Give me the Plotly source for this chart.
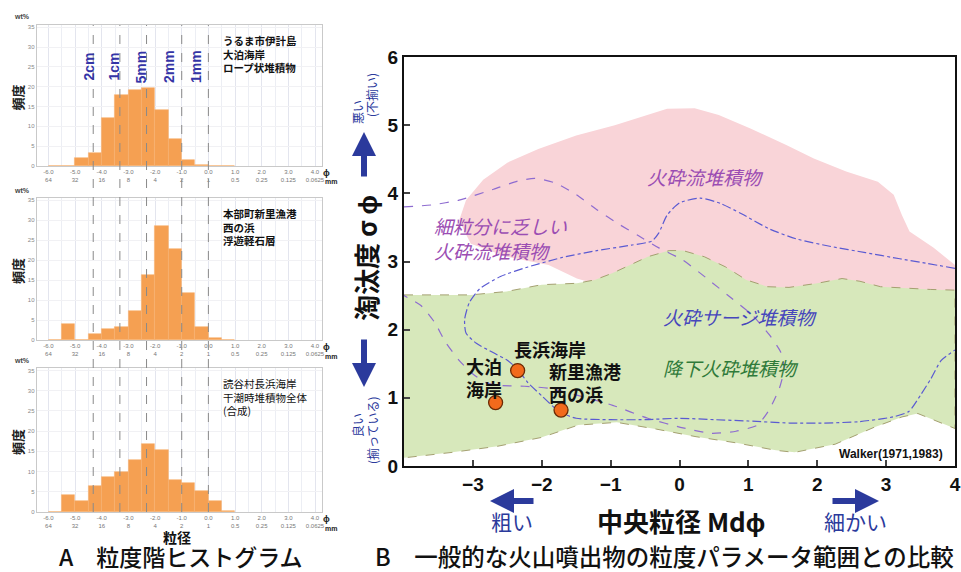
import plotly.graph_objects as go

W, H = 961, 572

# ---------------- data : A  grain-size histograms ----------------
bin_centers = [-5.75, -5.25, -4.75, -4.25, -3.75, -3.25, -2.75, -2.25,
               -1.75, -1.25, -0.75, -0.25, 0.25, 0.75]
wt_ikei = [0, 0, 2.1, 3.4, 12.0, 17.9, 19.2, 19.7, 14.2, 6.7, 1.6, 0.2, 0, 0]
wt_shinzato = [0, 4.0, 0, 1.4, 2.8, 3.2, 7.2, 16.2, 28.5, 22.8, 11.7, 3.3, 0.5, 0]
wt_nagahama = [0, 4.1, 2.7, 6.5, 8.6, 10.0, 12.8, 16.9, 15.4, 7.9, 7.2, 5.3, 2.6, 0.3]

phi_ticks = [-6, -5, -4, -3, -2, -1, 0, 1, 2, 3, 4]
phi_labels = ["-6.0", "-5.0", "-4.0", "-3.0", "-2.0", "-1.0", "0.0", "1.0", "2.0", "3.0", "4.0"]
mm_labels = ["64", "32", "16", "8", "4", "2", "1", "0.5", "0.25", "0.125", "0.0625"]
grid_half = [-6.0, -5.5, -5.0, -4.5, -4.0, -3.5, -3.0, -2.5, -2.0, -1.5, -1.0, -0.5,
             0.0, 0.5, 1.0, 1.5, 2.0, 2.5, 3.0, 3.5, 4.0]
wt_ticks = [0, 5, 10, 15, 20, 25, 30, 35]

size_phi = [-4.32, -3.32, -2.32, -1.0, 0.0]
size_names = ["2cm", "1cm", "5mm", "2mm", "1mm"]

hist_sites = [
    "うるま市伊計島<br>大泊海岸<br>ロープ状堆積物",
    "本部町新里漁港<br>西の浜<br>浮遊軽石層",
    "読谷村長浜海岸<br>干潮時堆積物全体<br>(合成)",
]

# ---------------- data : B  Md-phi vs sigma-phi ----------------
site_md = [-2.67, -2.35, -1.72]
site_sigma = [0.93, 1.40, 0.82]

pflow_x = [-3.2, -3.1, -2.85, -2.5, -2.05, -1.5, -0.94, -0.47, -0.18, 0.22, 0.57, 1.03,
           1.55, 1.95, 2.42, 2.88, 3.11, 3.23, 3.34, 3.69, 4.0, 4.0, 1.0, -1.0, -1.18,
           -1.49, -1.9, -2.51, -3.03]
pflow_y = [3.6, 3.9, 4.2, 4.45, 4.65, 4.85, 5.0, 5.15, 5.24, 5.25, 5.15, 4.95,
           4.71, 4.51, 4.32, 4.17, 3.98, 3.68, 3.44, 3.2, 2.95, 2.5, 2.5, 2.5, 2.66,
           2.75, 2.95, 3.07, 3.26]

fall_x = [-4.0, -3.03, -2.51, -2.0, -1.49, -1.23, -0.97, -0.72, -0.46, -0.15, 0.05, 0.36,
          0.67, 0.97, 1.28, 1.59, 2.0, 2.36, 2.62, 2.92, 3.23, 3.64, 4.0,
          4.0, 3.46, 3.23, 2.83, 2.26, 1.67, 1.4, 0.82, 0.24, -0.33, -0.91, -1.47,
          -2.0, -2.64, -3.3, -4.0]
fall_y = [2.51, 2.51, 2.56, 2.66, 2.68, 2.73, 2.83, 2.95, 3.07, 3.16, 3.16, 3.07,
          2.92, 2.73, 2.63, 2.62, 2.68, 2.75, 2.71, 2.63, 2.61, 2.59, 2.58,
          0.55, 0.77, 0.72, 0.57, 0.32, 0.2, 0.23, 0.34, 0.43, 0.54, 0.64, 0.6,
          0.42, 0.29, 0.2, 0.12]

fines_x = [-4.0, -3.6, -3.2, -2.7, -2.35, -2.1, -1.8, -1.5, -1.2, -0.9, -0.6, -0.3, 0.05,
           0.4, 0.72, 1.05, 1.3, 1.47, 1.52, 1.45, 1.3, 1.13, 0.82, 0.46, 0.05, -0.46,
           -0.97, -1.49, -1.9, -2.25, -2.6, -2.8, -3.0, -3.2, -3.4, -3.55, -3.75, -4.0]
fines_y = [3.8, 3.83, 3.9, 4.06, 4.18, 4.22, 4.15, 3.98, 3.76, 3.56, 3.38, 3.2, 3.02,
           2.75, 2.49, 2.22, 1.93, 1.67, 1.43, 1.14, 0.82, 0.6, 0.51, 0.48, 0.56, 0.7,
           0.89, 1.04, 1.14, 1.17, 1.18, 1.22, 1.35, 1.55, 1.82, 2.1, 2.35, 2.5]

surge_x = [4.0, 3.6, 3.2, 2.7, 2.2, 1.7, 1.3, 0.9, 0.6, 0.3, 0.0, -0.18, -0.3, -0.4,
           -0.7, -1.2, -1.7, -2.2, -2.6, -2.9, -3.05, -3.12, -3.1, -2.95, -2.7, -2.5,
           -2.35, -2.2, -2.0, -1.75, -1.5, -1.0, -0.5, 0.0, 0.5, 1.0, 1.6, 2.1, 2.6,
           3.1, 3.33, 3.5, 3.65, 3.8, 4.0]
surge_y = [2.9, 2.97, 3.04, 3.13, 3.22, 3.33, 3.48, 3.7, 3.85, 3.93, 3.86, 3.68, 3.42,
           3.3, 3.24, 3.16, 3.06, 2.92, 2.78, 2.6, 2.4, 2.15, 1.95, 1.8, 1.66, 1.55,
           1.42, 1.22, 1.03, 0.8, 0.7, 0.68, 0.68, 0.7, 0.68, 0.66, 0.63, 0.63, 0.65,
           0.72, 0.8, 1.04, 1.28, 1.55, 1.7]

b_xticks = [-3, -2, -1, 0, 1, 2, 3, 4]
b_yticks = [0, 1, 2, 3, 4, 5, 6]

# ---------------- helpers (pixel -> paper) ----------------
def PX(x):
    return x / W

def PY(y):
    return 1 - y / H

LAT = "Liberation Sans, Arial, Noto Sans CJK JP"
CJK = "Noto Sans CJK JP, Liberation Sans"
BLUE = "#2b3a9c"

fig = go.Figure()

# ---------------- panel A ----------------
hist_px = (36.7, 321.7)
hist_py = [(25, 166), (198, 340), (368, 512)]
hist_vals = [wt_ikei, wt_shinzato, wt_nagahama]
ann = []
for i, vals in enumerate(hist_vals):
    n = "" if i == 0 else str(i + 1)
    fig.add_trace(go.Bar(x=bin_centers, y=vals, width=0.5,
                         marker=dict(color="#f5a052", line=dict(color="#f7b272", width=0.6)),
                         xaxis="x" + n, yaxis="y" + n, showlegend=False))
    top, bot = hist_py[i]
    fig.layout["xaxis" + n] = dict(
        domain=[PX(hist_px[0]), PX(hist_px[1])], range=[-6.44, 4.25],
        anchor="y" + n, tickvals=phi_ticks, automargin=False,
        ticktext=[a + "<br>" + b for a, b in zip(phi_labels, mm_labels)],
        tickfont=dict(size=6, color="#777", family=LAT), ticks="",
        showgrid=True, gridcolor="#e3e5ee", gridwidth=1,
        minor=dict(tickvals=grid_half, showgrid=True, gridcolor="#eceef4"),
        showline=True, mirror=True, linecolor="#c9c9c9", linewidth=1, zeroline=False,
        fixedrange=True)
    fig.layout["yaxis" + n] = dict(
        domain=[PY(bot), PY(top)], range=[0, 35.6], anchor="x" + n, automargin=False,
        tickvals=wt_ticks, tickfont=dict(size=6, color="#888", family=LAT),
        showgrid=True, gridcolor="#f1f1f4", showline=True, mirror=True,
        linecolor="#c9c9c9", linewidth=1, zeroline=False, ticks="")
    # axis decorations
    ann.append(dict(text="<b>wt%</b>", x=PX(22), y=PY(top - 8), font=dict(size=7, color="#444", family=LAT)))
    ann.append(dict(text="<b>頻度</b>", x=PX(17), y=PY((top + bot) / 2 + 2), textangle=-90,
                    font=dict(size=13, color="#222", family=CJK)))
    ann.append(dict(text="<b>ϕ</b>", x=PX(326), y=PY(bot + 7), font=dict(size=9, color="#222", family=LAT)))
    ann.append(dict(text="<b>mm</b>", x=PX(331), y=PY(bot + 16), font=dict(size=7, color="#222", family=LAT)))
    site_txt = hist_sites[i]
    ann.append(dict(text=("<b>" + site_txt + "</b>") if i < 2 else site_txt,
                    x=PX(221), y=PY(top + 29), xanchor="left", align="left",
                    font=dict(size=10.5, color="#111", family=CJK)))

# dashed reference lines across the three histograms
for p in size_phi:
    fig.add_shape(type="line", xref="x", yref="paper", x0=p, x1=p,
                  y0=PY(512), y1=PY(25), line=dict(color="#8a8a8a", width=1, dash="dash"))

# size labels in top histogram
size_lbl_px = [88.5, 113.5, 140.5, 169, 196]
for name, xp in zip(size_names, size_lbl_px):
    ann.append(dict(text="<b>" + name + "</b>", x=PX(xp), y=PY(67), textangle=-90,
                    font=dict(size=14, color="#3434a6", family=LAT)))

ann.append(dict(text="<b>粒径</b>", x=PX(177), y=PY(537), font=dict(size=14, color="#111", family=CJK)))
ann.append(dict(text="A　粒度階ヒストグラム", x=PX(57), y=PY(556), xanchor="left",
                font=dict(size=23, color="#111", family=CJK, weight=500)))

# ---------------- panel B ----------------
fig.add_trace(go.Scatter(x=pflow_x, y=pflow_y, fill="toself", fillcolor="#f9d4d8",
                         line=dict(width=0), mode="lines", xaxis="x4", yaxis="y4",
                         showlegend=False, hoverinfo="skip"))
fig.add_trace(go.Scatter(x=fall_x, y=fall_y, fill="toself", fillcolor="#d7e8bb",
                         line=dict(color="#a4a070", width=1, dash="dash"), mode="lines",
                         xaxis="x4", yaxis="y4", showlegend=False, hoverinfo="skip"))
fig.add_trace(go.Scatter(x=fines_x, y=fines_y, mode="lines",
                         line=dict(color="#8e6cd0", width=1.2, dash="dash", shape="spline", smoothing=0.6),
                         xaxis="x4", yaxis="y4", showlegend=False, hoverinfo="skip"))
fig.add_trace(go.Scatter(x=surge_x, y=surge_y, mode="lines",
                         line=dict(color="#5a5ad2", width=1.2, dash="dashdot", shape="spline", smoothing=0.6),
                         xaxis="x4", yaxis="y4", showlegend=False, hoverinfo="skip"))
fig.add_trace(go.Scatter(x=site_md, y=site_sigma, mode="markers",
                         marker=dict(size=14, color="#f26a1c", line=dict(color="#6a2a05", width=1.3)),
                         xaxis="x4", yaxis="y4", showlegend=False))

fig.layout["xaxis4"] = dict(domain=[PX(404), PX(955)], range=[-4, 4], anchor="y4",
                            tickvals=b_xticks, ticks="inside", ticklen=6, tickwidth=1.5,
                            automargin=False,
                            tickfont=dict(size=19, color="#111", family=LAT, weight="bold"),
                            showline=True, mirror=True, linecolor="#111", linewidth=2,
                            showgrid=False, zeroline=False)
fig.layout["yaxis4"] = dict(domain=[PY(466), PY(57)], range=[0, 6], anchor="x4",
                            tickvals=b_yticks, ticks="inside", ticklen=6, tickwidth=1.5,
                            automargin=False,
                            tickfont=dict(size=19, color="#111", family=LAT, weight="bold"),
                            showline=True, mirror=True, linecolor="#111", linewidth=2,
                            showgrid=False, zeroline=False)

def dann(text, x, y, size, color, **kw):
    d = dict(text=text, x=x, y=y, xref="x4", yref="y4", showarrow=False,
             font=dict(size=size, color=color, family=CJK))
    d.update(kw)
    return d

ann.append(dann("<i>火砕流堆積物</i>", 0.38, 4.24, 19, "#9b4db3"))
ann.append(dann("<i>細粒分に乏しい<br>火砕流堆積物</i>", -3.6, 3.35, 19, "#9b4db3",
                xanchor="left", align="left"))
ann.append(dann("<i>火砕サージ堆積物</i>", 0.89, 2.2, 19, "#4646bc"))
ann.append(dann("<i>降下火砕堆積物</i>", 0.75, 1.45, 19, "#2f7a3a"))
ann.append(dann("<b>大泊<br>海岸</b>", -2.84, 1.3, 18, "#111"))
ann.append(dann("<b>長浜海岸</b>", -1.88, 1.72, 18, "#111"))
ann.append(dann("<b>新里漁港<br>西の浜</b>", -1.92, 1.23, 18, "#111", xanchor="left", align="left"))
ann.append(dann("<b>Walker(1971,1983)</b>", 3.86, 0.18, 12, "#111", xanchor="right",
                font=dict(size=12, color="#111", family=LAT)))

# axis titles & arrows for B
ann.append(dict(text="<b>淘汰度 σ ϕ</b>", x=PX(365), y=PY(258), textangle=-90,
                font=dict(size=26, color="#111", family=CJK)))
ann.append(dict(text="悪い", x=PX(357), y=PY(112), textangle=-90, font=dict(size=12, color=BLUE, family=CJK)))
ann.append(dict(text="(不揃い)", x=PX(372), y=PY(95), textangle=-90, font=dict(size=12, color=BLUE, family=CJK)))
ann.append(dict(text="良い", x=PX(357), y=PY(425), textangle=-90, font=dict(size=12, color=BLUE, family=CJK)))
ann.append(dict(text="(揃っている)", x=PX(372), y=PY(430), textangle=-90, font=dict(size=12, color=BLUE, family=CJK)))
arrow = dict(text="", showarrow=True, arrowhead=2, arrowwidth=6, arrowsize=0.8, arrowcolor=BLUE)
ann.append(dict(x=PX(364), y=PY(132), ax=0, ay=46, **arrow))
ann.append(dict(x=PX(364), y=PY(387), ax=0, ay=-49, **arrow))
ann.append(dict(x=PX(490), y=PY(501), ax=45, ay=0, **arrow))
ann.append(dict(x=PX(879), y=PY(501), ax=-48, ay=0, **arrow))
ann.append(dict(text="<b>中央粒径 Mdϕ</b>", x=PX(681), y=PY(520), font=dict(size=26, color="#111", family=CJK)))
ann.append(dict(text="粗い", x=PX(512), y=PY(521), font=dict(size=21, color=BLUE, family=CJK)))
ann.append(dict(text="細かい", x=PX(855), y=PY(521), font=dict(size=21, color=BLUE, family=CJK)))
ann.append(dict(text="B　一般的な火山噴出物の粒度パラメータ範囲との比較", x=PX(956), y=PY(556),
                xanchor="right", font=dict(size=23.5, color="#111", family=CJK, weight=500)))

for a in ann:
    a.setdefault("xref", "paper")
    a.setdefault("yref", "paper")
    a.setdefault("showarrow", False)
    a.setdefault("xanchor", "center")
    a.setdefault("yanchor", "middle")

fig.update_layout(template="none", width=W, height=H, margin=dict(l=0, r=0, t=0, b=0, pad=0),
                  paper_bgcolor="white", plot_bgcolor="white",
                  annotations=ann, showlegend=False, bargap=0)

fig.write_html("out.html", config={"displayModeBar": False},
               post_script="document.body.style.margin='0px';")
